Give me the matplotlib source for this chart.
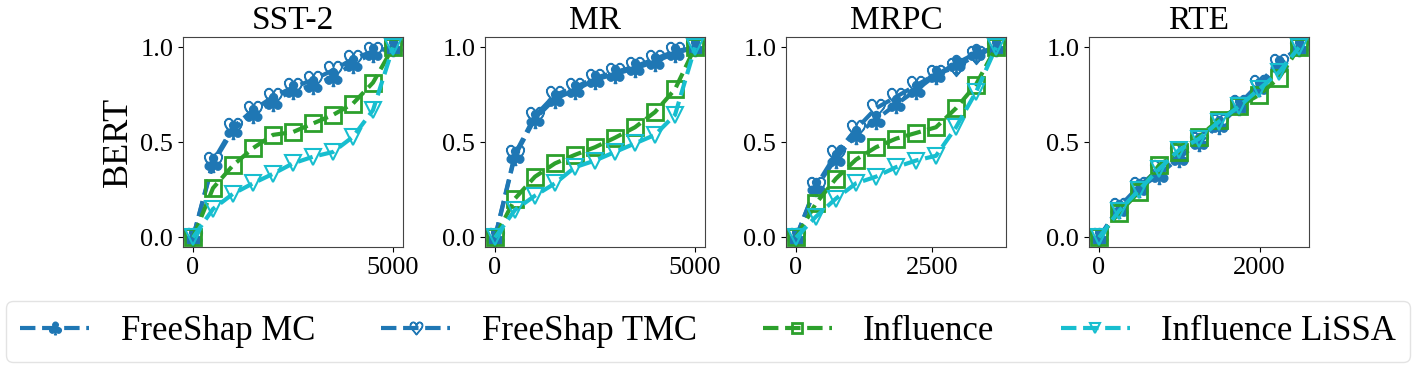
import matplotlib
matplotlib.use('Agg')
import matplotlib.pyplot as plt

plt.rcParams['font.family'] = ['Liberation Serif', 'DejaVu Serif']
plt.rcParams['mathtext.fontset'] = 'dejavusans'

# data
titles = ['SST-2', 'MR', 'MRPC', 'RTE']
x_max = [5000, 5000, 3668, 2490]
n_points = 11

mc = [
    [0, 0.39, 0.565, 0.65, 0.715, 0.775, 0.80, 0.845, 0.915, 0.97, 1.0],
    [0, 0.43, 0.625, 0.73, 0.775, 0.83, 0.86, 0.89, 0.925, 0.97, 1.0],
    [0, 0.265, 0.415, 0.54, 0.62, 0.70, 0.775, 0.855, 0.915, 0.97, 1.0],
    [0, 0.15, 0.26, 0.33, 0.42, 0.50, 0.59, 0.69, 0.79, 0.91, 1.0],
]
tmc = [
    [0, 0.40, 0.58, 0.67, 0.74, 0.79, 0.83, 0.88, 0.94, 0.98, 1.0],
    [0, 0.44, 0.64, 0.75, 0.79, 0.84, 0.87, 0.90, 0.94, 0.98, 1.0],
    [0, 0.27, 0.44, 0.57, 0.68, 0.74, 0.80, 0.86, 0.895, 0.96, 1.0],
    [0, 0.16, 0.27, 0.36, 0.45, 0.51, 0.60, 0.70, 0.81, 0.92, 1.0],
]
influence = [
    [0, 0.26, 0.38, 0.47, 0.54, 0.555, 0.60, 0.645, 0.705, 0.815, 1.0],
    [0, 0.205, 0.32, 0.39, 0.435, 0.475, 0.525, 0.58, 0.66, 0.78, 1.0],
    [0, 0.18, 0.31, 0.41, 0.475, 0.52, 0.55, 0.58, 0.68, 0.805, 1.0],
    [0, 0.13, 0.24, 0.38, 0.45, 0.53, 0.62, 0.69, 0.75, 0.84, 1.0],
]
lissa = [
    [0, 0.15, 0.23, 0.285, 0.335, 0.39, 0.425, 0.45, 0.53, 0.67, 1.0],
    [0, 0.145, 0.22, 0.285, 0.37, 0.405, 0.45, 0.495, 0.54, 0.645, 1.0],
    [0, 0.11, 0.205, 0.285, 0.32, 0.37, 0.405, 0.43, 0.58, 0.765, 1.0],
    [0, 0.14, 0.25, 0.36, 0.46, 0.52, 0.61, 0.69, 0.78, 0.87, 1.0],
]
xticks = [[0, 5000], [0, 5000], [0, 2500], [0, 2000]]

c_blue = '#1f77b4'
c_green = '#2ca02c'
c_cyan = '#17becf'

fig = plt.figure(figsize=(14.17, 3.67), dpi=100)

lefts = [183, 485, 786, 1089]
handles = None
for i in range(4):
    ax = fig.add_axes([lefts[i] / 1417, 120 / 367, 220 / 1417, 210 / 367])
    xs = [x_max[i] * k / (n_points - 1) for k in range(n_points)]
    h1, = ax.plot(xs, mc[i], '--', color=c_blue, lw=3, marker=r'$\clubsuit$', ms=13,
                  label='FreeShap MC')
    h2, = ax.plot(xs, tmc[i], '--', color=c_blue, lw=3, marker=r'$\heartsuit$', ms=13,
                  label='FreeShap TMC')
    h3, = ax.plot(xs, influence[i], '--', color=c_green, lw=3, marker='s', ms=11,
                  mfc='none', mew=2, label='Influence')
    h4, = ax.plot(xs, lissa[i], '--', color=c_cyan, lw=3, marker='v', ms=11,
                  mfc='none', mew=1.5, label='Influence LiSSA')
    handles = [h1, h2, h3, h4]
    ax.set_title(titles[i], fontsize=24)
    ax.set_xticks(xticks[i])
    ax.set_yticks([0.0, 0.5, 1.0])
    ax.set_ylim(-0.05, 1.055)
    ax.tick_params(labelsize=19)
    for s in ax.spines.values():
        s.set_color('#444444')
    if i == 0:
        ax.set_ylabel('BERT', fontsize=26)

fig.legend(handles=handles, loc='lower left', ncol=4, fontsize=25,
           bbox_to_anchor=(6 / 1417, 5 / 367, 1404 / 1417, 62 / 367),
           mode='expand', markerscale=0.7, frameon=True, edgecolor='#dddddd',
           borderaxespad=0, handletextpad=0.9)

fig.savefig('out.png', dpi=100)
